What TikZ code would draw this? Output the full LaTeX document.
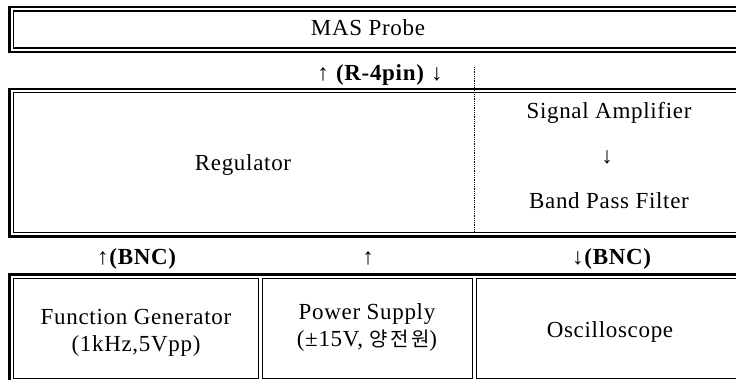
\documentclass[tikz,border=0pt]{standalone}
\usepackage{fontspec}
\setmainfont{Liberation Serif}[LetterSpace=3]
\newfontfamily\krfont{Noto Sans CJK KR}[LetterSpace=12]

\begin{document}
\begin{tikzpicture}[x=1pt,y=-1pt,
    outerline/.style={line width=2.2pt},
    innerline/.style={line width=1.1pt},
    txt/.style={font=\fontsize{23}{27}\selectfont, inner sep=0pt, anchor=base}]

		\useasboundingbox (0,0) rectangle (736,380);
		\clip (0,0) rectangle (736,380);

		% MAS probe box
		\draw[outerline] (9.5,7) rectangle (750,52);
		\draw[innerline] (13.5,11) rectangle (750,48);
		\node[txt] (probe) at (368,35) {MAS Probe};

		% connector label between probe and regulator
		\node[txt] (rpin) at (380,80) {↑ \textbf{(R-4pin)} ↓};
		\coordinate (dtop) at (474,67);
		\coordinate (dbot) at (474,232);
		\draw[densely dotted, line width=0.8pt] (dtop) -- (dbot);

		% regulator / amplifier box
		\draw[outerline] (9.5,89) rectangle (750,236.5);
		\draw[innerline] (13.5,92.5) rectangle (750,232.5);
		\node[txt] (reg) at (243,170) {Regulator};
		\node[txt] (amp) at (609,118) {Signal Amplifier};
		\node[txt] (down) at (607,163) {↓};
		\node[txt] (bpf) at (609,208) {Band Pass Filter};

		% cable labels
		\node[txt] (bncin) at (137,264) {↑\textbf{(BNC)}};
		\node[txt] (pwr) at (368,264) {↑};
		\node[txt] (bncout) at (612,264) {↓\textbf{(BNC)}};

		% bottom row: instruments
		\draw[outerline] (9.5,274.5) rectangle (750,390);
		\draw[innerline] (13.5,278.5) rectangle (258.5,378.5);
		\draw[innerline] (262.5,278.5) rectangle (472.5,378.5);
		\draw[innerline] (476.5,278.5) rectangle (750,378.5);
		\node[txt] (fgen) at (136,324) {Function Generator};
		\node[txt] (fgenval) at (136,351) {(1kHz,5Vpp)};
		\node[txt] (psu) at (367,319) {Power Supply};
		\node[txt] (psuval) at (367,346) {(±15V, {\krfont\fontsize{20}{24}\selectfont 양전원})};
		\node[txt] (osc) at (610,337) {Oscilloscope};
	\end{tikzpicture}
\end{document}
